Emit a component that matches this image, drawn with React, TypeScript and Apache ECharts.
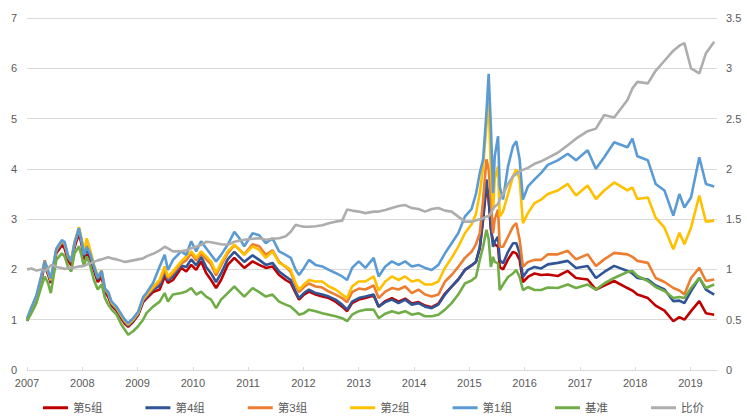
import React, { useEffect, useRef } from "react";
import * as echarts from "echarts";

const years = [
  2007.00, 2007.08, 2007.17, 2007.26, 2007.32, 2007.38, 2007.43, 2007.47, 2007.53, 2007.63,
  2007.68, 2007.74, 2007.80, 2007.86, 2007.94, 2007.99, 2008.03, 2008.08, 2008.14, 2008.21,
  2008.28, 2008.35, 2008.41, 2008.47, 2008.53, 2008.62, 2008.71, 2008.77, 2008.83, 2008.92,
  2009.01,
  2009.10, 2009.16, 2009.28, 2009.40, 2009.49, 2009.55, 2009.64, 2009.79, 2009.88, 2009.97,
  2010.06, 2010.15, 2010.24, 2010.33, 2010.42, 2010.51, 2010.63, 2010.75, 2010.84, 2010.93,
  2011.08,
  2011.20, 2011.32, 2011.44, 2011.56, 2011.68, 2011.77, 2011.86, 2011.92, 2012.01, 2012.10,
  2012.22, 2012.34, 2012.46, 2012.58, 2012.70, 2012.79, 2012.88, 2013.00, 2013.12, 2013.27,
  2013.36, 2013.48, 2013.60, 2013.72, 2013.84, 2013.96, 2014.08, 2014.20, 2014.32, 2014.44,
  2014.56, 2014.68, 2014.80, 2014.92, 2015.04, 2015.12, 2015.19, 2015.25, 2015.31, 2015.35,
  2015.39, 2015.43, 2015.46, 2015.52, 2015.55, 2015.61, 2015.70, 2015.79, 2015.85, 2015.91,
  2015.97, 2016.06, 2016.18, 2016.30, 2016.42, 2016.60, 2016.78, 2016.93, 2017.14, 2017.29,
  2017.44, 2017.62, 2017.86, 2017.95, 2018.04, 2018.23, 2018.37, 2018.53, 2018.69, 2018.80,
  2018.89, 2019.01, 2019.16, 2019.28, 2019.43,
];

const group5 = [
  0.98, 1.18, 1.41, 1.80, 2.08, 1.90, 1.73, 1.97, 2.32, 2.48,
  2.42, 2.18, 2.08, 2.44, 2.72, 2.48, 2.20, 2.30, 2.22, 1.98,
  1.75, 1.85, 1.55, 1.45, 1.28, 1.18, 1.02, 0.92, 0.86, 0.96,
  1.09,
  1.35, 1.42, 1.55, 1.60, 1.86, 1.73, 1.79, 2.03, 1.96, 2.09,
  1.99, 2.16, 1.93, 1.79, 1.63, 1.79, 2.09, 2.23, 2.13, 2.03,
  2.16,
  2.09, 2.03, 2.06, 1.89, 1.79, 1.73, 1.53, 1.40, 1.50, 1.56,
  1.50, 1.46, 1.43, 1.36, 1.26, 1.17, 1.33, 1.40, 1.43, 1.48,
  1.26, 1.37, 1.43, 1.36, 1.42, 1.32, 1.35, 1.28, 1.25, 1.32,
  1.52, 1.66, 1.80, 1.99, 2.08, 2.15, 2.42, 2.99, 3.65, 3.40,
  2.79, 2.55, 2.50, 2.45, 2.05, 2.00, 2.20, 2.35, 2.32, 2.19,
  1.75, 1.85, 1.92, 1.89, 1.90, 1.87, 1.97, 1.83, 1.80, 1.60,
  1.68, 1.77, 1.63, 1.58, 1.50, 1.43, 1.28, 1.18, 0.97, 1.05,
  1.00, 1.17, 1.37, 1.13, 1.10,
];

const group4 = [
  0.99, 1.20, 1.43, 1.83, 2.12, 1.93, 1.76, 2.00, 2.36, 2.53,
  2.49, 2.23, 2.13, 2.49, 2.78, 2.53, 2.26, 2.40, 2.28, 2.03,
  1.80, 1.92, 1.58, 1.50, 1.31, 1.21, 1.05, 0.95, 0.88, 0.98,
  1.11,
  1.37, 1.45, 1.60, 1.68, 1.93, 1.78, 1.86, 2.08, 2.05, 2.20,
  2.08, 2.25, 2.05, 1.92, 1.75, 1.92, 2.20, 2.35, 2.25, 2.15,
  2.28,
  2.19, 2.09, 2.13, 1.96, 1.86, 1.79, 1.56, 1.43, 1.53, 1.60,
  1.53, 1.50, 1.46, 1.40, 1.30, 1.20, 1.36, 1.43, 1.46, 1.50,
  1.26, 1.35, 1.40, 1.33, 1.40, 1.30, 1.33, 1.26, 1.23, 1.30,
  1.50, 1.66, 1.80, 1.99, 2.08, 2.15, 2.45, 3.05, 3.79, 3.39,
  2.85, 2.45, 2.55, 2.65, 2.19, 2.12, 2.35, 2.52, 2.52, 2.32,
  1.85, 1.99, 2.05, 2.02, 2.10, 2.13, 2.17, 2.03, 2.07, 1.83,
  1.95, 2.07, 1.97, 1.92, 1.83, 1.80, 1.68, 1.60, 1.37, 1.38,
  1.33, 1.57, 1.83, 1.60, 1.50,
];

const group3 = [
  1.00, 1.22, 1.45, 1.85, 2.18, 1.95, 1.78, 2.02, 2.38, 2.55,
  2.51, 2.25, 2.15, 2.51, 2.80, 2.55, 2.30, 2.48, 2.33, 2.06,
  1.83, 1.95, 1.60, 1.52, 1.33, 1.23, 1.07, 0.97, 0.90, 1.00,
  1.13,
  1.40, 1.48, 1.63, 1.75, 2.00, 1.82, 1.92, 2.12, 2.18, 2.32,
  2.18, 2.32, 2.20, 2.10, 1.88, 2.08, 2.32, 2.48, 2.40, 2.30,
  2.50,
  2.46, 2.29, 2.38, 2.15, 2.05, 1.95, 1.68, 1.55, 1.65, 1.72,
  1.66, 1.64, 1.56, 1.50, 1.43, 1.35, 1.55, 1.62, 1.60, 1.68,
  1.43, 1.56, 1.63, 1.60, 1.66, 1.53, 1.60, 1.50, 1.46, 1.50,
  1.76, 1.89, 2.05, 2.23, 2.35, 2.50, 2.72, 3.39, 4.19, 3.99,
  3.39, 2.72, 3.00, 3.19, 2.45, 2.45, 2.65, 2.85, 2.92, 2.59,
  2.05, 2.15, 2.19, 2.19, 2.30, 2.30, 2.37, 2.20, 2.30, 2.07,
  2.20, 2.33, 2.30, 2.25, 2.17, 2.13, 1.83, 1.75, 1.63, 1.58,
  1.50, 1.83, 2.03, 1.77, 1.80,
];

const group2 = [
  1.00, 1.24, 1.47, 1.87, 2.15, 1.97, 1.80, 2.04, 2.40, 2.57,
  2.53, 2.28, 2.20, 2.55, 2.84, 2.60, 2.35, 2.62, 2.40, 2.10,
  1.86, 1.98, 1.62, 1.55, 1.34, 1.24, 1.08, 0.98, 0.91, 1.01,
  1.14,
  1.42, 1.50, 1.65, 1.80, 2.06, 1.86, 1.96, 2.16, 2.26, 2.36,
  2.23, 2.36, 2.26, 2.16, 1.93, 2.13, 2.36, 2.49, 2.39, 2.29,
  2.46,
  2.39, 2.23, 2.36, 2.13, 2.06, 1.99, 1.73, 1.60, 1.70, 1.79,
  1.76, 1.76, 1.66, 1.60, 1.50, 1.43, 1.66, 1.76, 1.76, 1.86,
  1.58, 1.76, 1.86, 1.79, 1.86, 1.76, 1.79, 1.70, 1.70, 1.76,
  2.03, 2.23, 2.45, 2.72, 2.90, 3.10, 3.52, 4.05, 4.85, 5.32,
  3.99, 3.19, 3.80, 4.05, 3.05, 3.15, 3.50, 3.85, 3.99, 3.79,
  2.92, 3.12, 3.32, 3.39, 3.50, 3.57, 3.70, 3.47, 3.67, 3.40,
  3.57, 3.73, 3.57, 3.63, 3.40, 3.43, 3.03, 2.83, 2.40, 2.73,
  2.50, 2.83, 3.47, 2.95, 2.97,
];

const group1 = [
  1.02, 1.25, 1.48, 1.88, 2.16, 1.98, 1.82, 2.05, 2.41, 2.58,
  2.55, 2.28, 2.17, 2.53, 2.82, 2.56, 2.29, 2.45, 2.32, 2.07,
  1.84, 1.97, 1.62, 1.55, 1.36, 1.26, 1.10, 1.00, 0.93, 1.03,
  1.16,
  1.45, 1.53, 1.73, 2.06, 2.29, 1.99, 2.19, 2.36, 2.29, 2.56,
  2.36, 2.56, 2.42, 2.29, 2.16, 2.29, 2.49, 2.75, 2.62, 2.46,
  2.72,
  2.68, 2.52, 2.62, 2.36, 2.29, 2.23, 1.99, 1.89, 2.03, 2.19,
  2.09, 2.06, 1.99, 1.93, 1.86, 1.79, 2.03, 2.16, 2.03, 2.23,
  1.86, 2.06, 2.16, 2.09, 2.16, 2.06, 2.09, 2.03, 1.99, 2.09,
  2.32, 2.52, 2.72, 3.05, 3.20, 3.50, 3.92, 4.19, 5.12, 5.89,
  4.85, 3.52, 4.25, 4.65, 3.65, 3.39, 4.05, 4.45, 4.55, 4.19,
  3.39, 3.65, 3.79, 3.92, 4.08, 4.17, 4.30, 4.17, 4.37, 4.00,
  4.23, 4.53, 4.43, 4.60, 4.25, 4.17, 3.70, 3.57, 3.07, 3.50,
  3.23, 3.43, 4.23, 3.70, 3.65,
];

const benchmark = [
  0.97, 1.13, 1.33, 1.66, 1.86, 1.73, 1.53, 1.79, 2.19, 2.32,
  2.26, 2.06, 1.96, 2.32, 2.46, 2.26, 2.06, 2.26, 2.09, 1.79,
  1.60, 1.70, 1.43, 1.30, 1.20, 1.10, 0.90, 0.80, 0.70, 0.77,
  0.87,
  1.00, 1.13, 1.26, 1.36, 1.53, 1.36, 1.50, 1.53, 1.56, 1.63,
  1.50, 1.56, 1.46, 1.40, 1.23, 1.40, 1.53, 1.66, 1.56, 1.46,
  1.63,
  1.55, 1.46, 1.50, 1.36, 1.30, 1.26, 1.17, 1.10, 1.13, 1.20,
  1.17, 1.13, 1.10, 1.07, 1.03, 0.97, 1.10, 1.17, 1.20, 1.20,
  1.03, 1.12, 1.17, 1.13, 1.17, 1.10, 1.13, 1.07, 1.07, 1.10,
  1.20, 1.33, 1.50, 1.72, 1.78, 1.85, 2.19, 2.45, 2.79, 2.60,
  2.05, 2.25, 2.15, 2.12, 1.59, 1.70, 1.85, 1.92, 1.99, 1.85,
  1.59, 1.65, 1.59, 1.59, 1.64, 1.63, 1.70, 1.63, 1.70, 1.60,
  1.72, 1.83, 1.95, 1.97, 1.87, 1.77, 1.65, 1.57, 1.43, 1.45,
  1.43, 1.63, 1.83, 1.63, 1.70,
];

// 比价 (right axis)
const priceRatio = [
  1.00, 1.01, 0.99, 1.00, 0.985, 1.01, 1.04, 1.045, 1.025, 1.015,
  1.005, 1.015, 1.015, 1.02, 1.03, 1.03, 1.035, 1.05, 1.06, 1.075,
  1.09, 1.10, 1.11, 1.12, 1.11, 1.10, 1.085, 1.075, 1.08, 1.09,
  1.10,
  1.11, 1.13, 1.155, 1.19, 1.225, 1.21, 1.18, 1.18, 1.19, 1.21,
  1.225, 1.245, 1.275, 1.27, 1.26, 1.25, 1.245, 1.275, 1.285, 1.295,
  1.305,
  1.31, 1.295, 1.305, 1.31, 1.33, 1.375, 1.445, 1.435, 1.425, 1.425,
  1.43, 1.44, 1.46, 1.475, 1.485, 1.595, 1.585, 1.575, 1.56, 1.575,
  1.575, 1.59, 1.61, 1.63, 1.64, 1.61, 1.60, 1.575, 1.60, 1.61,
  1.585, 1.575, 1.525, 1.475, 1.475, 1.49, 1.50, 1.51, 1.525, 1.53,
  1.56, 1.60, 1.625, 1.65, 1.70, 1.75, 1.85, 1.925, 1.95, 1.975,
  1.99, 2.01, 2.05, 2.075, 2.11, 2.16, 2.235, 2.30, 2.375, 2.40,
  2.535, 2.51, 2.685, 2.80, 2.865, 2.85, 2.975, 3.075, 3.175, 3.225,
  3.25, 3.00, 2.95, 3.15, 3.265,
];

const seriesNames = ["第5组", "第4组", "第3组", "第2组", "第1组", "基准", "比价"];
const seriesColors = ["#C00000", "#2F5597", "#ED7D31", "#FFC000", "#5B9BD5", "#70AD47", "#ADADAD"];
const seriesValues = [group5, group4, group3, group2, group1, benchmark, priceRatio];

const FONT = "'Liberation Sans', Arial, 'Noto Sans CJK SC', sans-serif";

export default function App() {
  const ref = useRef<HTMLDivElement>(null);
  useEffect(() => {
    if (!ref.current) return;
    const chart = echarts.init(ref.current, undefined, { renderer: "svg" });
    const series = seriesNames.map((name, k) => ({
      name,
      type: "line",
      yAxisIndex: k === 6 ? 1 : 0,
      symbol: "none",
      showSymbol: false,
      smooth: false,
      data: years.map((y, i) => [y, seriesValues[k][i]]),
      lineStyle: { width: 2.6, color: seriesColors[k] },
      itemStyle: { color: seriesColors[k] },
      z: 2 + k,
    }));
    chart.setOption({
      animation: false,
      textStyle: { fontFamily: FONT },
      grid: { left: 27, right: 30, top: 18, bottom: 50, containLabel: false },
      legend: {
        data: seriesNames,
        top: 397,
        left: "center",
        icon: "rect",
        itemWidth: 25,
        itemHeight: 3,
        itemGap: 43,
        textStyle: { fontSize: 11.5, color: "#595959", fontFamily: FONT },
      },
      xAxis: {
        type: "value",
        min: 2007,
        max: 2019.48,
        interval: 1,
        axisLine: { show: true, lineStyle: { color: "#D9D9D9", width: 1 } },
        axisTick: { show: true, inside: true, length: 3, lineStyle: { color: "#D9D9D9" } },
        splitLine: { show: false },
        axisLabel: {
          color: "#595959",
          fontSize: 11,
          margin: 7,
          showMaxLabel: false,
          formatter: (v: number) => String(Math.round(v)),
        },
      },
      yAxis: [
        {
          type: "value",
          min: 0,
          max: 7,
          interval: 1,
          axisLine: { show: false },
          axisTick: { show: false },
          splitLine: { show: true, lineStyle: { color: "#D9D9D9", width: 1 } },
          axisLabel: { color: "#595959", fontSize: 11, margin: 10 },
        },
        {
          type: "value",
          min: 0,
          max: 3.5,
          interval: 0.5,
          position: "right",
          axisLine: { show: false },
          axisTick: { show: false },
          splitLine: { show: false },
          axisLabel: { color: "#595959", fontSize: 11, margin: 9 },
        },
      ],
      series,
    });
    return () => chart.dispose();
  }, []);
  return (
    <div
      ref={ref}
      style={{ position: "absolute", left: 0, top: 0, width: 747, height: 420, background: "#fff" }}
    />
  );
}
